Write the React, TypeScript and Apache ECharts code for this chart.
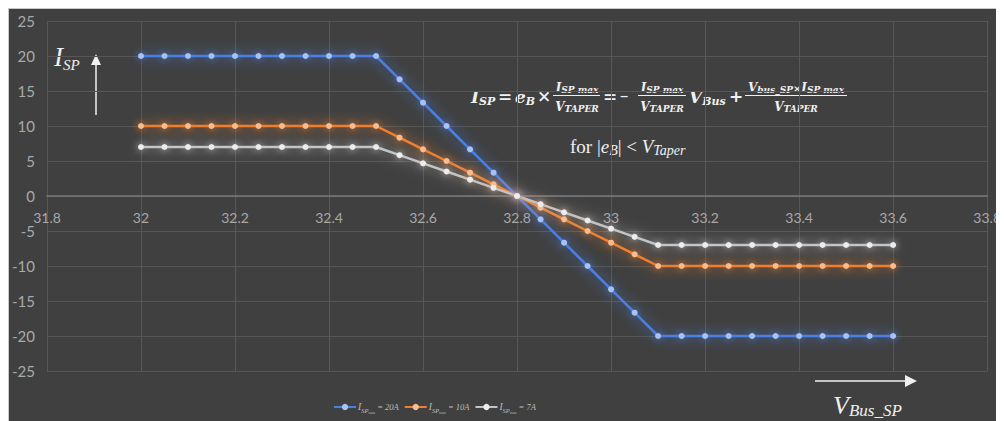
import React, { useEffect, useRef } from 'react';
import * as echarts from 'echarts';

// ---------- data ----------
const xValues = [
  32, 32.05, 32.1, 32.15, 32.2, 32.25, 32.3, 32.35, 32.4, 32.45, 32.5,
  32.55, 32.6, 32.65, 32.7, 32.75, 32.8, 32.85, 32.9, 32.95, 33, 33.05,
  33.1, 33.15, 33.2, 33.25, 33.3, 33.35, 33.4, 33.45, 33.5, 33.55, 33.6,
];
const seriesNames = ['ISPmax = 20A', 'ISPmax = 10A', 'ISPmax = 7A'];
const legendAmps = ['20A', '10A', '7A'];
const blueValues = [
  20, 20, 20, 20, 20, 20, 20, 20, 20, 20, 20,
  16.67, 13.33, 10, 6.67, 3.33, 0, -3.33, -6.67, -10, -13.33, -16.67,
  -20, -20, -20, -20, -20, -20, -20, -20, -20, -20, -20,
];
const orangeValues = [
  10, 10, 10, 10, 10, 10, 10, 10, 10, 10, 10,
  8.33, 6.67, 5, 3.33, 1.67, 0, -1.67, -3.33, -5, -6.67, -8.33,
  -10, -10, -10, -10, -10, -10, -10, -10, -10, -10, -10,
];
const grayValues = [
  7, 7, 7, 7, 7, 7, 7, 7, 7, 7, 7,
  5.83, 4.67, 3.5, 2.33, 1.17, 0, -1.17, -2.33, -3.5, -4.67, -5.83,
  -7, -7, -7, -7, -7, -7, -7, -7, -7, -7, -7,
];
const xAxisTicks = { min: 31.8, max: 33.8, interval: 0.2 };
const yAxisTicks = { min: -25, max: 25, interval: 5 };

// ---------- styling helpers ----------
const SERIF = "'Liberation Serif','DejaVu Serif',serif";
const MATH = "'DejaVu Serif','Liberation Serif',serif";
const TXT = '#f0f0f0';

const tok = (family: string, size: number, lh: number, weight: string, style: string, va?: string) => ({
  fontFamily: family, fontSize: size, fontWeight: weight, fontStyle: style,
  lineHeight: lh, verticalAlign: va || 'middle', fill: TXT, color: TXT,
});

const text = (t: string, x: number, y: number, rich: any, align = 'left') => ({
  type: 'text', x, y, silent: true,
  style: { text: t, rich, fill: TXT, align, verticalAlign: 'middle', fontFamily: SERIF },
});

const bigRich = {
  m: tok(MATH, 17, 20, 'bold', 'italic'),
  u: tok(MATH, 17, 20, 'bold', 'normal'),
  d: tok(MATH, 11, 20, 'bold', 'normal'),
  s: tok(MATH, 11, 7, 'bold', 'italic', 'bottom'),
};
const fracRich = {
  n: tok(MATH, 12, 13, 'bold', 'italic'),
  x: tok(MATH, 10, 13, 'bold', 'normal'),
  s: tok(MATH, 9, 6, 'bold', 'italic', 'bottom'),
};

const fraction = (num: string, den: string, cx: number, x1: number, x2: number) => [
  text(num, cx, 79, fracRich, 'center'),
  { type: 'line', silent: true, shape: { x1, y1: 86.5, x2, y2: 86.5 }, style: { stroke: TXT, lineWidth: 1 } },
  text(den, cx, 98, fracRich, 'center'),
];

const buildGraphic = () => [
  // I_SP label with up arrow
  text('{i|I}{s|SP}', 45, 48, { i: tok(SERIF, 27, 30, 'normal', 'italic'), s: tok(SERIF, 15, 10, 'normal', 'italic', 'bottom') }),
  { type: 'line', silent: true, shape: { x1: 87, y1: 106, x2: 87, y2: 55 }, style: { stroke: TXT, lineWidth: 1.5 } },
  { type: 'polygon', silent: true, shape: { points: [[82, 56], [87, 45], [92, 56]] }, style: { fill: TXT } },
  // V_Bus_SP label with right arrow
  { type: 'line', silent: true, shape: { x1: 806, y1: 372, x2: 897, y2: 372 }, style: { stroke: TXT, lineWidth: 1.5 } },
  { type: 'polygon', silent: true, shape: { points: [[896, 366], [908, 372], [896, 378]] }, style: { fill: TXT } },
  text('{v|V}{s|Bus_SP}', 824, 396, { v: tok(SERIF, 26, 28, 'normal', 'italic'), s: tok(SERIF, 17, 12, 'normal', 'italic', 'bottom') }),
  // formula
  text('{m|I}{s|SP}', 462, 88, bigRich),
  text('{u|=}', 496, 87, bigRich, 'center'),
  text('{m|e}{s|B}', 506, 88, bigRich),
  text('{u|×}', 535, 87, bigRich, 'center'),
  ...fraction('{n|I}{s|SP max}', '{n|V}{s|TAPER}', 568, 544, 591),
  text('{u|=}', 601, 87, bigRich, 'center'),
  text('{d|−}', 615, 87, bigRich, 'center'),
  ...fraction('{n|I}{s|SP max}', '{n|V}{s|TAPER}', 653, 629, 677),
  text('{m|V}{s|Bus}', 680, 88, bigRich),
  text('{u|+}', 727, 87, bigRich, 'center'),
  ...fraction('{n|V}{s|bus_SP}{x|×}{n|I}{s|SP max}', '{n|V}{s|TAPER}', 787, 736, 838),
  text('{r|for |}{e|e}{es|B}{r|| < }{e|V}{es|Taper}', 561, 137, {
    r: tok(SERIF, 19, 22, 'normal', 'normal'),
    e: tok(SERIF, 19, 22, 'normal', 'italic'),
    es: tok(SERIF, 14, 9, 'normal', 'italic', 'bottom'),
  }),
];

const makeSeries = (name: string, values: number[], line: string, mark: string) => ({
  type: 'line',
  name,
  data: xValues.map((x, i) => [x, values[i]]),
  symbol: 'circle',
  symbolSize: 6,
  showSymbol: true,
  lineStyle: { color: line, width: 2.5, shadowBlur: 14, shadowColor: line },
  itemStyle: { color: mark, shadowBlur: 7, shadowColor: line },
  emphasis: { disabled: true },
});

export default function App() {
  const ref = useRef<HTMLDivElement>(null);
  useEffect(() => {
    if (!ref.current) return;
    const chart = echarts.init(ref.current, undefined, { renderer: 'svg' });
    const axisLabelStyle = { color: '#a9a9a9', fontSize: 14, fontFamily: 'Lato, sans-serif' };
    chart.setOption({
      animation: false,
      backgroundColor: '#404040',
      grid: { left: 37, right: 3, top: 12, bottom: 50 },
      xAxis: {
        type: 'value',
        min: xAxisTicks.min,
        max: xAxisTicks.max,
        interval: xAxisTicks.interval,
        axisLine: { onZero: true, lineStyle: { color: '#7a7a7a', width: 1.5 } },
        axisTick: { show: false },
        axisLabel: {
          ...axisLabelStyle,
          margin: -161,
          showMinLabel: true,
          showMaxLabel: true,
          formatter: (v: number) => String(Number(v.toFixed(1))),
        },
        splitLine: { show: true, lineStyle: { color: '#575757', width: 1 } },
      },
      yAxis: {
        type: 'value',
        min: yAxisTicks.min,
        max: yAxisTicks.max,
        interval: yAxisTicks.interval,
        axisLine: { show: false },
        axisTick: { show: false },
        axisLabel: { ...axisLabelStyle, fontSize: 15, margin: 12 },
        splitLine: { show: true, lineStyle: { color: '#575757', width: 1 } },
      },
      legend: {
        left: 324,
        top: 393,
        padding: 0,
        itemWidth: 22,
        itemHeight: 8,
        itemGap: 5,
        data: seriesNames,
        formatter: (name: string) => {
          const idx = seriesNames.indexOf(name);
          return `{a|I}{b|SP}{c|max}{d| = ${legendAmps[idx]}}`;
        },
        textStyle: {
          color: '#bdbdbd',
          padding: [0, 0, 0, -3],
          rich: {
            a: { fontFamily: SERIF, fontStyle: 'italic', fontSize: 9.5, color: '#bdbdbd', lineHeight: 14 },
            b: { fontFamily: SERIF, fontStyle: 'italic', fontSize: 6.5, color: '#bdbdbd', lineHeight: 8, verticalAlign: 'bottom' },
            c: { fontFamily: SERIF, fontStyle: 'italic', fontSize: 4, color: '#bdbdbd', lineHeight: 4, verticalAlign: 'bottom' },
            d: { fontFamily: SERIF, fontStyle: 'italic', fontSize: 8.5, color: '#bdbdbd', lineHeight: 14 },
          },
        },
      },
      graphic: buildGraphic(),
      series: [
        makeSeries(seriesNames[0], blueValues, '#4a7fe6', '#a9c2f5'),
        makeSeries(seriesNames[1], orangeValues, '#f07f2e', '#f8bd8e'),
        makeSeries(seriesNames[2], grayValues, '#c4c4c4', '#ececec'),
      ],
    });
    return () => chart.dispose();
  }, []);
  return (
    <div
      style={{
        width: 996,
        height: 413,
        boxSizing: 'border-box',
        borderTop: '1px solid #c9c9c9',
        borderLeft: '1px solid #c9c9c9',
        background: '#404040',
      }}
    >
      <div ref={ref} style={{ width: 995, height: 412 }} />
    </div>
  );
}
